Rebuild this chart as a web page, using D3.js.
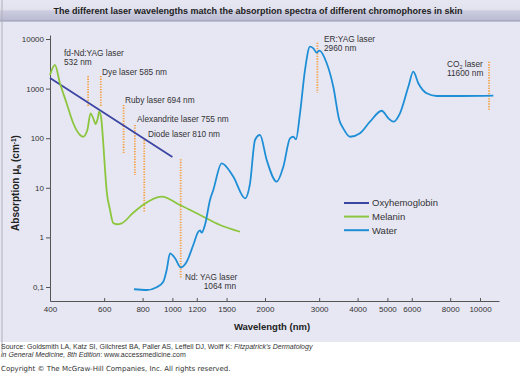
<!DOCTYPE html>
<html lang="en">
<head>
<meta charset="utf-8">
<title>Laser wavelengths and absorption spectra</title>
<style>
  body { margin: 0; background: #fff; }
  svg { display: block; font-family: "Liberation Sans", Arial, sans-serif; }
  .tick text { fill: #333; font-size: 8px; }
  .axis path, .axis line { stroke: #555; }
</style>
</head>
<body>
<script src="https://cdnjs.cloudflare.com/ajax/libs/d3/7.8.5/d3.min.js"></script>
<script>
// wavelength in nm, absorption in cm-1
const oxyWl  = [400, 700, 1000];
const oxyAbs = [1630, 174, 42];

const melWl  = [400, 415, 431, 453, 476, 501, 513, 529, 542, 553, 563, 572, 578, 586, 596, 604, 611, 627, 642, 659, 684, 744, 802, 923, 1058, 1230, 1428, 1659];
const melAbs = [1880, 2990, 1280, 506, 200, 116, 107, 146, 318, 252, 193, 252, 342, 271, 79, 22.8, 9.0, 3.57, 1.95, 1.84, 1.92, 3.10, 4.50, 6.62, 4.50, 2.83, 1.78, 1.30];

const waterWl  = [750, 825, 889, 934, 958, 982, 1020, 1064, 1113, 1169, 1214, 1230, 1245, 1276, 1325, 1358, 1446, 1578, 1722, 1788, 1856, 1926, 2026, 2183, 2294, 2412, 2472, 2522, 2599, 2698, 2801, 2871, 2945, 3003, 3175, 3335, 3487, 3593, 3779, 4072, 4389, 4791, 5034, 5226, 5493, 5848, 6071, 6301, 6709, 7231, 8610, 11048];
const waterAbs = [0.090, 0.087, 0.099, 0.128, 0.220, 0.477, 0.380, 0.249, 0.324, 0.703, 1.30, 1.38, 1.25, 1.78, 5.68, 9.03, 31.2, 16.7, 6.14, 12.3, 92, 116, 36.3, 13.3, 26.6, 99.5, 107, 95, 318, 2370, 7000, 6490, 5290, 5810, 3240, 1090, 233, 158, 107, 126, 215, 358, 252, 215, 318, 1090, 2190, 1280, 804, 710, 710, 719];

// laser marks: where the dotted line is drawn, and its span
const laserWl     = [532, 585, 694, 755, 810, 1064, 2960, 10700]; // CO2 line sits left of 11600 in the figure
const laserTop    = [1795, 1795, 467, 185, 92, 37.6, 8410, 3480];
const laserBottom = [431, 420, 48, 18.1, 3.15, 0.15, 826, 371];

const seriesNames  = ["Oxyhemoglobin", "Melanin", "Water"];
const seriesColors = ["#3c46a2", "#8cc63e", "#1e8fd6"];

const xTicks = [400, 600, 800, 1000, 1200, 1500, 2000, 3000, 4000, 5000, 6000, 8000, 10000];
const yTicks = [0.1, 1, 10, 100, 1000, 10000];
const yTickLabels = ["0,1", "1", "10", "100", "1000", "10000"];

const W = 520, H = 376;

const svg = d3.select("body").append("svg")
    .attr("width", W)
    .attr("height", H);

// panel background + title band
const defs = svg.append("defs");
const grad = defs.append("linearGradient")
    .attr("id", "band").attr("x1", 0).attr("y1", 0).attr("x2", 0).attr("y2", 1);
grad.append("stop").attr("offset", "0%").attr("stop-color", "#e7e7f3");
grad.append("stop").attr("offset", "45%").attr("stop-color", "#e2e2ef");
grad.append("stop").attr("offset", "52%").attr("stop-color", "#cdcde0");
grad.append("stop").attr("offset", "100%").attr("stop-color", "#b9b9d1");

svg.append("rect").attr("x", 0).attr("y", 0).attr("width", W).attr("height", 342).attr("fill", "#e7e7f3");
svg.append("rect").attr("x", 0).attr("y", 0).attr("width", W).attr("height", 21).attr("fill", "url(#band)");
svg.append("line").attr("x1", 0).attr("x2", W).attr("y1", 21).attr("y2", 21).attr("stroke", "#9797b5");
svg.append("line").attr("x1", 2).attr("x2", 2).attr("y1", 0).attr("y2", 352).attr("stroke", "#b0b0b8");

svg.append("text")
    .attr("x", 258).attr("y", 14)
    .attr("text-anchor", "middle")
    .attr("font-size", 9).attr("font-weight", "bold").attr("fill", "#222")
    .text("The different laser wavelengths match the absorption spectra of different chromophores in skin");

// scales (log-log)
const x = d3.scaleLog().domain([400, 10000]).range([50, 480]);
const y = d3.scaleLog().domain([0.1, 10000]).range([287, 39]);
const xAxisScale = x.copy().domain([400, x.invert(499)]).range([50, 499]);
const yAxisScale = y.copy().domain([y.invert(301), y.invert(35)]).range([301, 35]);

// axes
svg.append("g")
    .attr("class", "axis")
    .attr("transform", "translate(0,301)")
    .call(d3.axisBottom(xAxisScale).tickValues(xTicks).tickFormat(d3.format("d"))
        .tickSizeInner(-3).tickSizeOuter(0).tickPadding(5));

svg.append("g")
    .attr("class", "axis")
    .attr("transform", "translate(50,0)")
    .call(d3.axisLeft(yAxisScale).tickValues(yTicks).tickFormat((d, i) => yTickLabels[i])
        .tickSizeInner(4).tickSizeOuter(0).tickPadding(2));

svg.selectAll(".axis text").attr("font-family", null);

// axis titles
svg.append("text")
    .attr("x", 272).attr("y", 330)
    .attr("text-anchor", "middle")
    .attr("font-size", 9.5).attr("font-weight", "bold").attr("fill", "#222")
    .text("Wavelength (nm)");

const yt = svg.append("text")
    .attr("transform", "translate(19,183) rotate(-90)")
    .attr("text-anchor", "middle")
    .attr("font-size", 10).attr("font-weight", "bold").attr("fill", "#222");
yt.append("tspan").text("Absorption \u03bc");
yt.append("tspan").attr("font-size", 7).attr("dy", 2).text("a");
yt.append("tspan").attr("dy", -2).text(" (cm");
yt.append("tspan").attr("font-size", 6.5).attr("dy", -3.5).text("-1");
yt.append("tspan").attr("dy", 3.5).text(")");

// curves
const line = d3.line()
    .x(d => x(d[0]))
    .y(d => y(d[1]))
    .curve(d3.curveMonotoneX);

const series = [
    d3.zip(oxyWl, oxyAbs),
    d3.zip(melWl, melAbs),
    d3.zip(waterWl, waterAbs)
];

// lasers (dotted orange)
svg.selectAll(".laser")
    .data(laserWl)
    .enter().append("line")
    .attr("class", "laser")
    .attr("x1", d => x(d)).attr("x2", d => x(d))
    .attr("y1", (d, i) => y(laserTop[i]))
    .attr("y2", (d, i) => y(laserBottom[i]))
    .attr("stroke", "#f5a040")
    .attr("stroke-width", 1.8)
    .attr("stroke-dasharray", "1.3,1.3");

svg.selectAll(".curve")
    .data(series)
    .enter().append("path")
    .attr("class", "curve")
    .attr("d", line)
    .attr("fill", "none")
    .attr("stroke", (d, i) => seriesColors[i])
    .attr("stroke-width", 1.8);

// laser labels
const labelLines = [
    ["fd-Nd:YAG laser", "532 nm"],
    ["Dye laser 585 nm"],
    ["Ruby laser 694 nm"],
    ["Alexandrite laser 755 nm"],
    ["Diode laser 810 nm"],
    ["Nd: YAG laser", "1064 mn"],
    ["ER:YAG laser", "2960 nm"],
    ["CO2 laser", "11600 nm"]
];
const labelPos = [[64, 56], [102, 75], [125, 103], [137, 122], [148, 137], [185, 280], [324, 42], [447, 67]];

labelLines.forEach((lines, i) => {
    const t = svg.append("text")
        .attr("x", labelPos[i][0]).attr("y", labelPos[i][1])
        .attr("font-size", 8.3).attr("fill", "#333");
    lines.forEach((s, j) => {
        const ts = t.append("tspan").attr("x", labelPos[i][0]).attr("dy", j ? 9 : 0);
        if (s.startsWith("CO2")) {
            ts.text("CO");
            t.append("tspan").attr("font-size", 5.5).attr("dy", 1.5).text("2");
            t.append("tspan").attr("dy", -1.5).text(" laser");
        } else if (s === "1064 mn") {
            ts.attr("x", 236).attr("text-anchor", "end").text(s);
        } else {
            ts.text(s);
        }
    });
});

// legend
const legend = svg.selectAll(".legend")
    .data(seriesNames)
    .enter().append("g")
    .attr("class", "legend")
    .attr("transform", (d, i) => "translate(344," + (203 + i * 13.6) + ")");
legend.append("line")
    .attr("x1", 0).attr("x2", 25)
    .attr("stroke", (d, i) => seriesColors[i])
    .attr("stroke-width", 2);
legend.append("text")
    .attr("x", 28).attr("dy", "0.35em")
    .attr("font-size", 9.5).attr("fill", "#333")
    .text(d => d);

// source and copyright
const src = svg.append("text").attr("x", 1).attr("y", 349)
    .attr("font-size", 7).attr("fill", "#333");
src.append("tspan").text("Source: Goldsmith LA, Katz SI, Gilchrest BA, Paller AS, Leffell DJ, Wolff K: ");
src.append("tspan").attr("font-style", "italic").text("Fitzpatrick's Dermatology");
const src2 = svg.append("text").attr("x", 1).attr("y", 356.5)
    .attr("font-size", 7).attr("fill", "#333");
src2.append("tspan").attr("font-style", "italic").text("in General Medicine, 8th Edition");
src2.append("tspan").text(": www.accessmedicine.com");

svg.append("text").attr("x", 1).attr("y", 371)
    .attr("font-size", 7).attr("font-family", "'DejaVu Sans', Verdana, sans-serif").attr("fill", "#333")
    .text("Copyright \u00a9 The McGraw-Hill Companies, Inc. All rights reserved.");
</script>
</body>
</html>
